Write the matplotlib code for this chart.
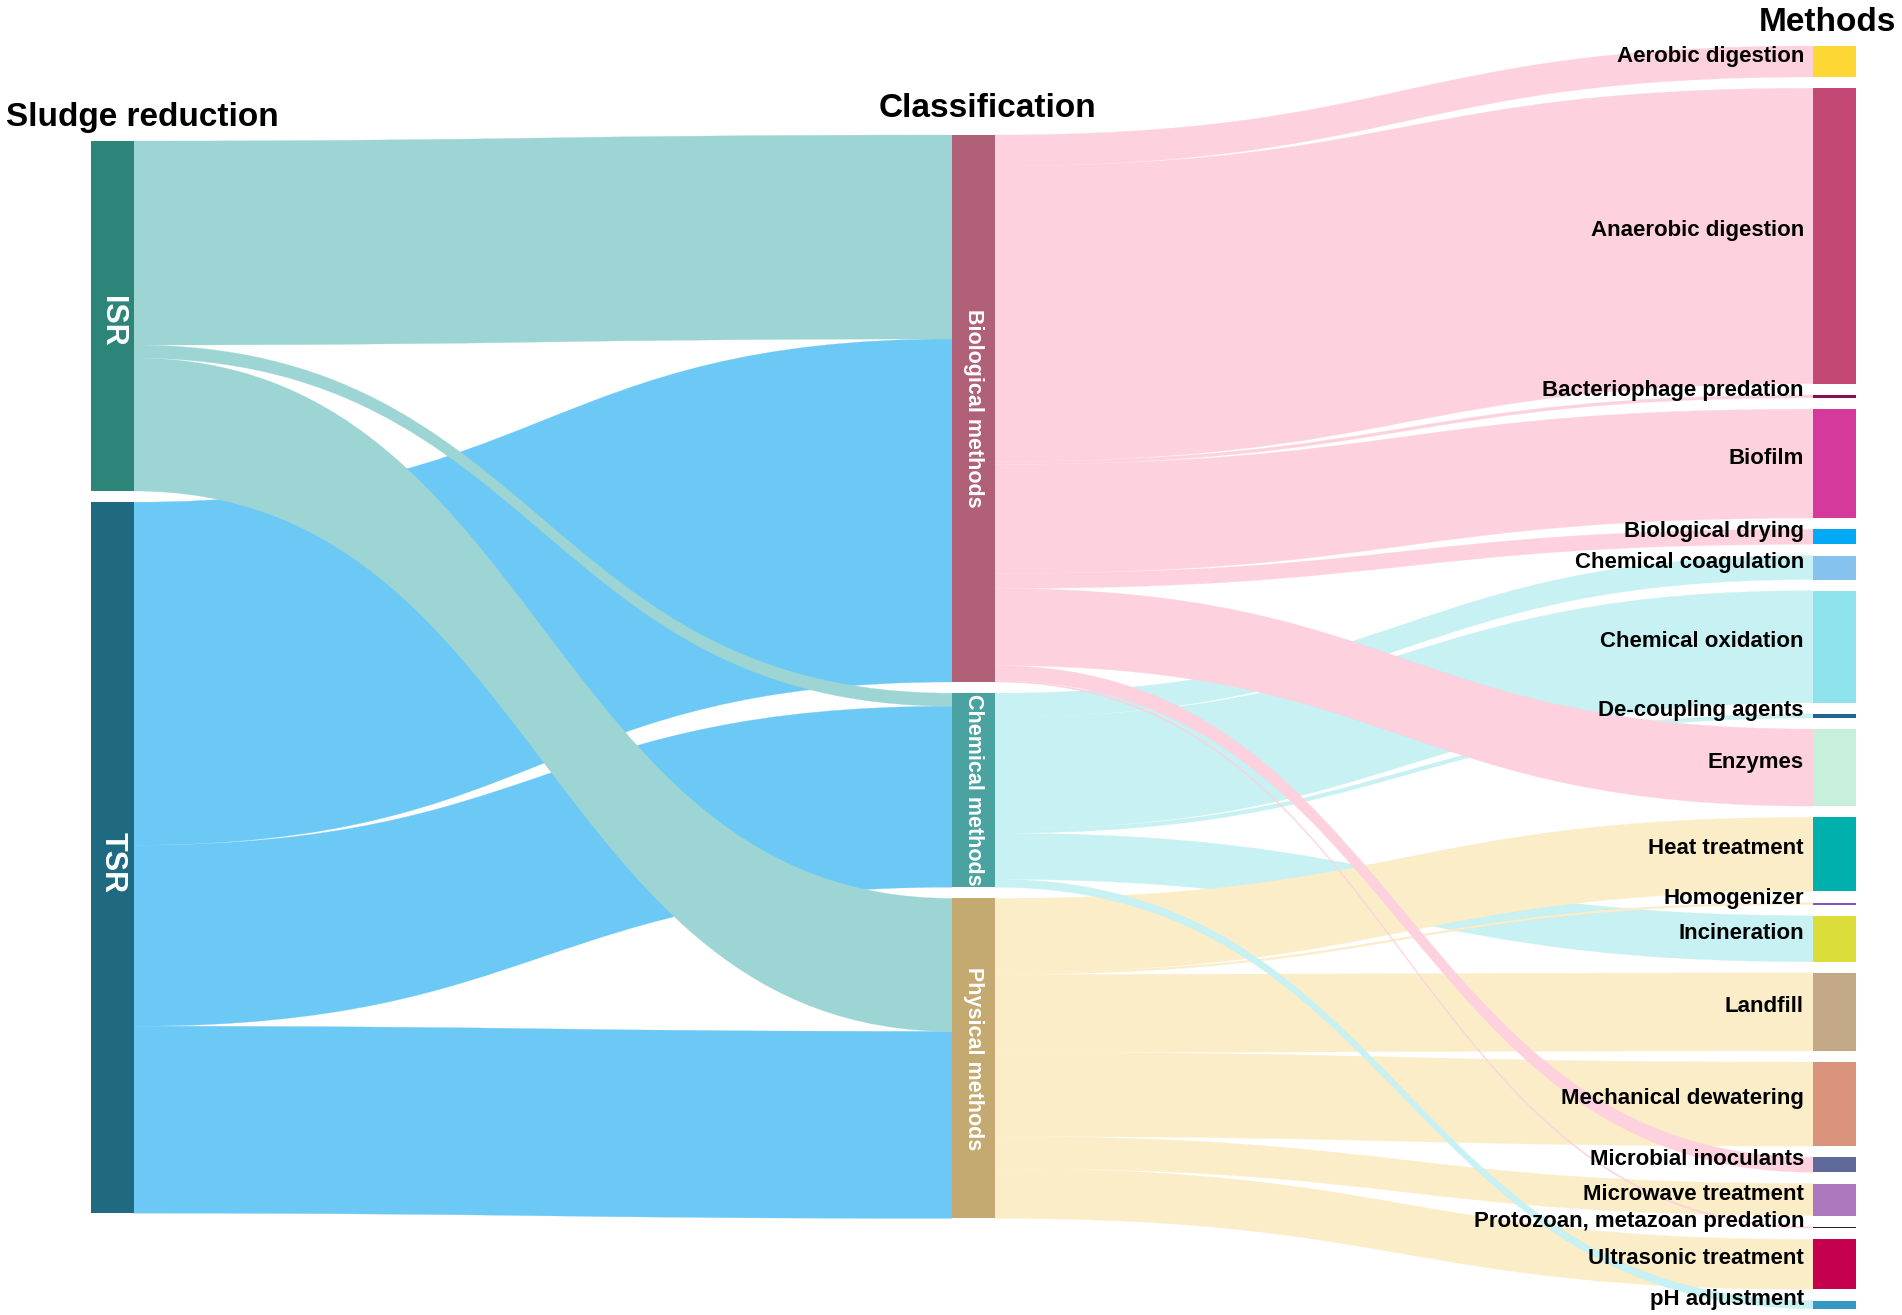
import numpy as np
import matplotlib.pyplot as plt
from matplotlib.path import Path
from matplotlib.patches import PathPatch, Rectangle

plt.rcParams['font.family'] = ['Liberation Sans', 'DejaVu Sans']

# ---- data ----
level_titles = ['Sludge reduction', 'Classification', 'Methods']

reduction = ['ISR', 'TSR']
classes = ['Biological methods', 'Chemical methods', 'Physical methods']
methods = ['Aerobic digestion', 'Anaerobic digestion', 'Bacteriophage predation',
           'Biofilm', 'Biological drying', 'Chemical coagulation',
           'Chemical oxidation', 'De-coupling agents', 'Enzymes',
           'Heat treatment', 'Homogenizer', 'Incineration', 'Landfill',
           'Mechanical dewatering', 'Microbial inoculants',
           'Microwave treatment', 'Protozoan, metazoan predation',
           'Ultrasonic treatment', 'pH adjustment']

# reduction -> classification
red_src = ['ISR', 'ISR', 'ISR', 'TSR', 'TSR', 'TSR']
red_tgt = ['Biological methods', 'Chemical methods', 'Physical methods',
           'Biological methods', 'Chemical methods', 'Physical methods']
red_val = [204, 13, 133, 343, 181, 187]

# classification -> method (one class per method)
method_class = ['Biological methods', 'Biological methods', 'Biological methods',
                'Biological methods', 'Biological methods', 'Chemical methods',
                'Chemical methods', 'Chemical methods', 'Biological methods',
                'Physical methods', 'Physical methods', 'Chemical methods',
                'Physical methods', 'Physical methods', 'Biological methods',
                'Physical methods', 'Biological methods', 'Physical methods',
                'Chemical methods']
method_val = [31, 295.5, 3, 109, 15, 24, 112, 4, 77, 74, 2, 46, 78, 84, 15,
              32, 1.5, 50, 8]

# ---- styles ----
node_color = {
    'ISR': '#2d857a', 'TSR': '#1f6a80',
    'Biological methods': '#b06077', 'Chemical methods': '#4aa3a0',
    'Physical methods': '#c4a971',
    'Aerobic digestion': '#fdd835', 'Anaerobic digestion': '#c44875',
    'Bacteriophage predation': '#880e4f', 'Biofilm': '#d4399b',
    'Biological drying': '#03a9f4', 'Chemical coagulation': '#85c3ee',
    'Chemical oxidation': '#8ee3ec', 'De-coupling agents': '#1b6896',
    'Enzymes': '#c8efdc', 'Heat treatment': '#00b0ad',
    'Homogenizer': '#7e57c2', 'Incineration': '#dcdc3a',
    'Landfill': '#c4a988', 'Mechanical dewatering': '#d9937a',
    'Microbial inoculants': '#5f6a9a', 'Microwave treatment': '#ae78bf',
    'Protozoan, metazoan predation': '#212121',
    'Ultrasonic treatment': '#c5004f', 'pH adjustment': '#3399c4',
}
link_color = {
    'ISR': '#9dd5d4', 'TSR': '#6cc9f6',
    'Biological methods': '#fdd2de', 'Chemical methods': '#c7f1f2',
    'Physical methods': '#fbedc8',
}

W, H = 1902, 1315
col_x = [91, 952, 1813]
node_w = 42.5
col_top = [141, 135, 46]
pad = 11.2

columns = [reduction, classes, methods]

# links as (source, target, value)
links = list(zip(red_src, red_tgt, red_val)) + \
        list(zip(method_class, methods, method_val))

# node sizes: max of in / out
size = {}
for col in columns:
    for n in col:
        vin = sum(v for s, t, v in links if t == n)
        vout = sum(v for s, t, v in links if s == n)
        size[n] = max(vin, vout)

# node vertical positions
ypos = {}
xcol = {}
for ci, col in enumerate(columns):
    y = col_top[ci]
    for n in col:
        ypos[n] = (y, y + size[n])
        xcol[n] = col_x[ci]
        y += size[n] + pad

order = {n: i for col in columns for i, n in enumerate(col)}

# link offsets at source (sorted by target) and target (sorted by source)
src_off = {}
tgt_off = {}
for n in ypos:
    outs = sorted([l for l in links if l[0] == n], key=lambda l: order[l[1]])
    y = ypos[n][0]
    for l in outs:
        src_off[l] = y
        y += l[2]
    ins = sorted([l for l in links if l[1] == n], key=lambda l: order[l[0]])
    y = ypos[n][0]
    for l in ins:
        tgt_off[l] = y
        y += l[2]

fig = plt.figure(figsize=(W / 100, H / 100), dpi=100)
ax = fig.add_axes([0, 0, 1, 1])
ax.set_xlim(0, W)
ax.set_ylim(H, 0)
ax.axis('off')


def draw_link(l, z):
    s, t, v = l
    x0 = xcol[s] + node_w
    x1 = xcol[t]
    xm = (x0 + x1) / 2
    s0 = src_off[l]
    t0 = tgt_off[l]
    verts = [(x0, s0), (xm, s0), (xm, t0), (x1, t0),
             (x1, t0 + v), (xm, t0 + v), (xm, s0 + v), (x0, s0 + v), (x0, s0)]
    codes = [Path.MOVETO, Path.CURVE4, Path.CURVE4, Path.CURVE4,
             Path.LINETO, Path.CURVE4, Path.CURVE4, Path.CURVE4, Path.CLOSEPOLY]
    c = link_color[s]
    ax.add_patch(PathPatch(Path(verts, codes), facecolor=c,
                           edgecolor=c, lw=0.2, zorder=z))


# drawing order (which ribbon lies on top)
draw_rank = {'TSR': 0, 'ISR': 1, 'Chemical methods': 2,
             'Physical methods': 3, 'Biological methods': 4}
for l in links:
    z = 1 + draw_rank[l[0]] * 0.1
    if l[1] == 'pH adjustment':
        z = 1.6
    draw_link(l, z)

# nodes
for n, (y0, y1) in ypos.items():
    h = max(y1 - y0, 1.5)
    ax.add_patch(Rectangle((xcol[n], y0), node_w, h, facecolor=node_color[n],
                           edgecolor='none', zorder=3))

# labels
for n in reduction:
    yc = sum(ypos[n]) / 2 + 5
    ax.text(xcol[n] + node_w / 2, yc, n, rotation=270, rotation_mode='anchor',
            ha='center', va='center', color='white', fontsize=22,
            fontweight='bold', zorder=4)
for n in classes:
    yc = sum(ypos[n]) / 2
    ax.text(xcol[n] + node_w / 2, yc, n, rotation=270, rotation_mode='anchor',
            ha='center', va='center', color='white', fontsize=15.5,
            fontweight='bold', zorder=4)
for n in methods:
    yc = sum(ypos[n]) / 2
    ax.text(xcol[n] - 9, yc, n, ha='right', va='baseline', color='black',
            fontsize=16, fontweight='bold', zorder=4)

ax.text(6, 126, level_titles[0], ha='left', va='baseline', fontsize=24,
        fontweight='bold')
ax.text(988, 117, level_titles[1], ha='center', va='baseline', fontsize=24,
        fontweight='bold')
ax.text(1896, 31, level_titles[2], ha='right', va='baseline', fontsize=24,
        fontweight='bold')

fig.savefig('out.png', dpi=100, facecolor='white')
